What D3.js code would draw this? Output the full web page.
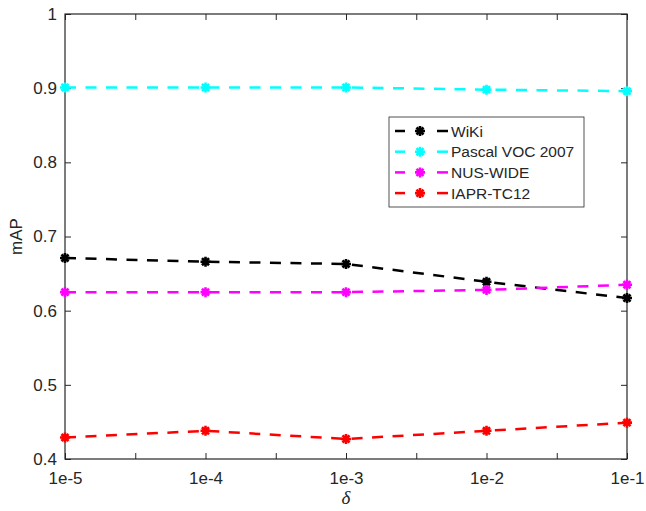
<!DOCTYPE html>
<html lang="en">
    <head>
        <meta charset="utf-8">
        <title>mAP vs delta</title>
        <style>
            body { margin: 0; background: #fff; }
            text { font-family: "Liberation Sans", Arial, sans-serif; fill: #262626; }
        </style>
    </head>
    <body>
        <div id="chart"></div>
        <script src="https://d3js.org/d3.v7.min.js"></script>
        <script>
            const xLabels = ["1e-5", "1e-4", "1e-3", "1e-2", "1e-1"];
            const yTicks = [0.4, 0.5, 0.6, 0.7, 0.8, 0.9, 1];
            const seriesNames = ["WiKi", "Pascal VOC 2007", "NUS-WIDE", "IAPR-TC12"];
            const seriesColors = ["#000000", "#00ffff", "#ff00ff", "#ff0000"];
            const wiki = [0.671, 0.666, 0.663, 0.639, 0.617];
            const pascal = [0.901, 0.901, 0.901, 0.898, 0.896];
            const nus = [0.625, 0.625, 0.625, 0.628, 0.635];
            const iapr = [0.429, 0.438, 0.427, 0.438, 0.449];
            const allSeries = [wiki, pascal, nus, iapr];

            const W = 646, H = 511;
            const m = {left: 65, right: 19, top: 14, bottom: 52};
            const iw = W - m.left - m.right;
            const ih = H - m.top - m.bottom;

            const svg = d3.select("#chart").append("svg")
                .attr("width", W)
                .attr("height", H);

            const x = d3.scaleLinear().domain([1, 5]).range([m.left, m.left + iw]);
            const y = d3.scaleLinear().domain([0.4, 1]).range([m.top + ih, m.top]);

            const xTickVals = d3.range(1, 5.01, 0.5);
            const fmtX = d => Number.isInteger(d) ? xLabels[d - 1] : "";

            // axes, ticks pointing inward like matlab
            svg.append("g")
                .attr("transform", `translate(0,${m.top + ih})`)
                .call(d3.axisBottom(x).tickValues(xTickVals).tickFormat(fmtX).tickSizeInner(-6).tickSizeOuter(0).tickPadding(13))
                .call(g => g.select(".domain").remove());
            svg.append("g")
                .attr("transform", `translate(0,${m.top})`)
                .call(d3.axisTop(x).tickValues(xTickVals).tickFormat("").tickSizeInner(-6).tickSizeOuter(0))
                .call(g => g.select(".domain").remove());
            svg.append("g")
                .attr("transform", `translate(${m.left},0)`)
                .call(d3.axisLeft(y).tickValues(yTicks).tickFormat(d => d === 1 ? "1" : d3.format(".1f")(d)).tickSizeInner(-6).tickSizeOuter(0).tickPadding(8))
                .call(g => g.select(".domain").remove());
            svg.append("g")
                .attr("transform", `translate(${m.left + iw},0)`)
                .call(d3.axisRight(y).tickValues(yTicks).tickFormat("").tickSizeInner(-6).tickSizeOuter(0))
                .call(g => g.select(".domain").remove());

            svg.selectAll(".tick line").attr("stroke", "#262626");
            svg.selectAll(".tick text")
                .style("font-size", "17px")
                .style("font-family", "'Liberation Sans', Arial, sans-serif")
                .attr("fill", "#262626");

            svg.append("rect")
                .attr("x", m.left).attr("y", m.top)
                .attr("width", iw).attr("height", ih)
                .attr("fill", "none")
                .attr("stroke", "#262626")
                .attr("stroke-width", 1.2);

            const starPath = r => {
                const d = r * Math.SQRT1_2;
                return `M${-r},0L${r},0M0,${-r}L0,${r}M${-d},${-d}L${d},${d}M${-d},${d}L${d},${-d}`;
            };

            const line = d3.line()
                .x((d, i) => x(i + 1))
                .y(d => y(d));

            allSeries.forEach((vals, k) => {
                svg.append("path")
                    .datum(vals)
                    .attr("d", line)
                    .attr("fill", "none")
                    .attr("stroke", seriesColors[k])
                    .attr("stroke-width", 2.5)
                    .attr("stroke-dasharray", "11,9.5");
                svg.selectAll(null)
                    .data(vals)
                    .enter().append("path")
                    .attr("transform", (d, i) => `translate(${x(i + 1)},${y(d)})`)
                    .attr("d", starPath(5))
                    .attr("stroke", seriesColors[k])
                    .attr("stroke-width", 2.6)
                    .attr("fill", "none");
            });

            // legend
            const lg = svg.append("g");
            lg.append("rect")
                .attr("x", 389).attr("y", 117)
                .attr("width", 195).attr("height", 90)
                .attr("fill", "#fff")
                .attr("stroke", "#262626")
                .attr("stroke-width", 0.8);
            seriesNames.forEach((name, k) => {
                const ly = 131 + k * 20.7;
                lg.append("line").attr("x1", 395).attr("x2", 405).attr("y1", ly).attr("y2", ly)
                    .attr("stroke", seriesColors[k]).attr("stroke-width", 2.5);
                lg.append("line").attr("x1", 437).attr("x2", 448).attr("y1", ly).attr("y2", ly)
                    .attr("stroke", seriesColors[k]).attr("stroke-width", 2.5);
                lg.append("path")
                    .attr("transform", `translate(420,${ly})`)
                    .attr("d", starPath(5))
                    .attr("stroke", seriesColors[k])
                    .attr("stroke-width", 2.6);
                lg.append("text")
                    .attr("x", 451).attr("y", ly)
                    .attr("dy", "0.36em")
                    .style("font-size", "15.5px")
                    .text(name);
            });

            svg.append("text")
                .attr("transform", `translate(22,${m.top + ih / 2}) rotate(-90)`)
                .attr("text-anchor", "middle")
                .style("font-size", "17px")
                .text("mAP");

            svg.append("text")
                .attr("x", m.left + iw / 2)
                .attr("y", 504)
                .attr("text-anchor", "middle")
                .style("font-size", "19px")
                .style("font-style", "italic")
                .style("font-family", "'Liberation Serif', 'Times New Roman', serif")
                .text("δ");
        </script>
    </body>
</html>
